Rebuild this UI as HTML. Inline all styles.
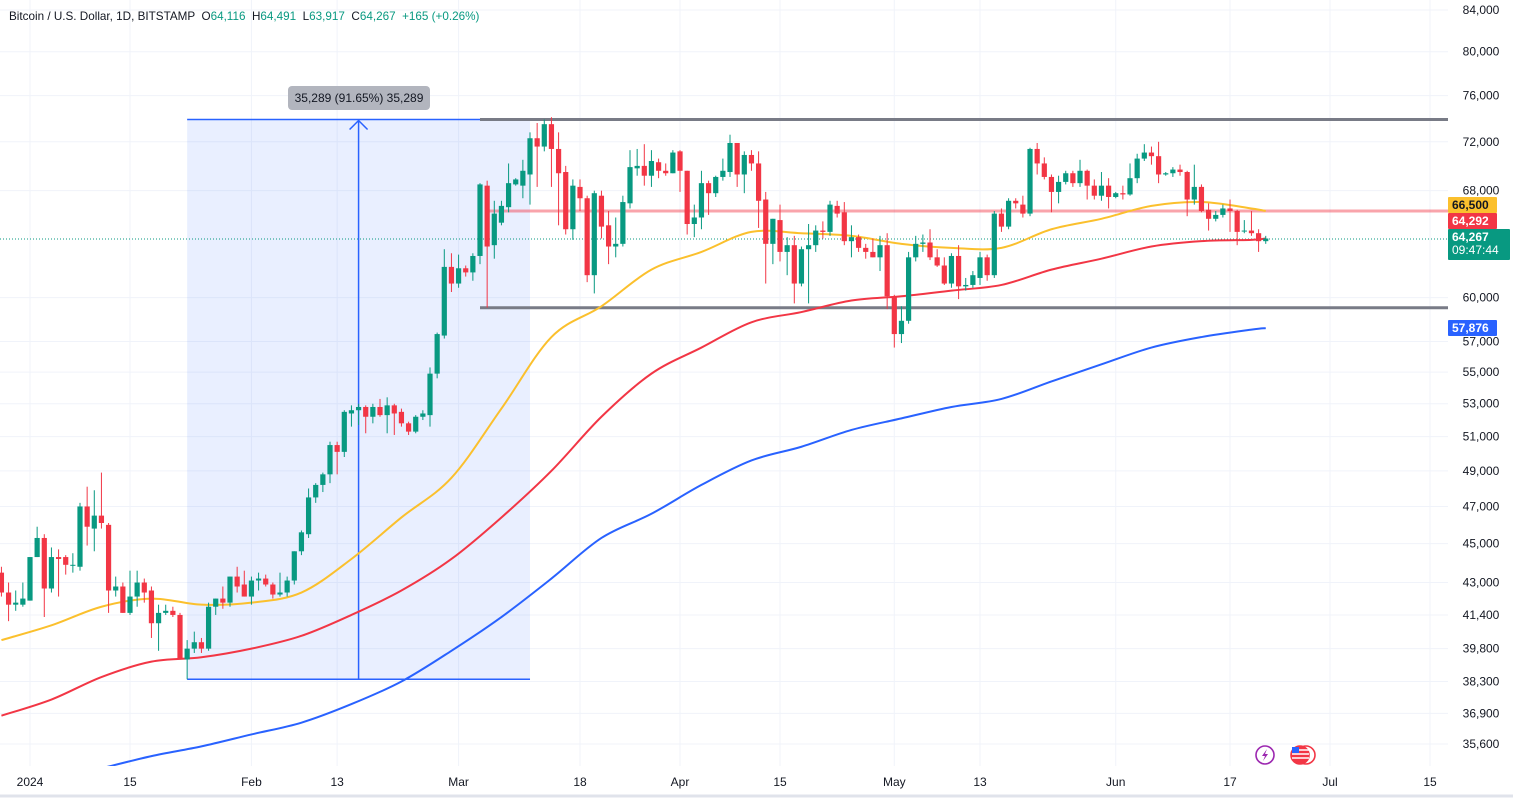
<!DOCTYPE html>
<html><head><meta charset="utf-8"><style>
html,body{margin:0;padding:0;background:#fff;}
svg{display:block;font-family:"Liberation Sans",sans-serif;}
</style></head><body>
<svg id="chart" width="1513" height="799" viewBox="0 0 1513 799" xmlns="http://www.w3.org/2000/svg"></svg>
<script>
const startDate = "2023-12-28";
const opens = [43.5,42.5,41.9,41.9,42.1,44.3,45.3,42.7,44.3,44.3,43.9,43.8,47.0,45.8,46.5,46.0,42.6,42.8,41.5,42.3,43.0,42.6,41.0,41.5,41.6,41.4,39.3,39.8,40.1,39.8,41.8,42.2,42.0,43.3,42.9,42.3,43.1,43.2,42.9,42.4,42.5,43.1,44.6,45.5,47.5,48.2,48.8,50.5,50.1,52.4,52.6,52.8,52.2,52.8,52.3,52.9,52.5,51.8,51.3,52.2,52.3,54.9,57.4,62.2,61.0,62.1,61.8,63.0,68.4,63.8,65.5,66.7,68.5,68.4,69.3,72.3,71.6,73.5,71.4,69.5,65.0,68.3,67.4,61.6,67.6,65.3,63.7,63.9,67.0,69.8,70.0,69.2,70.3,69.6,69.4,71.2,69.6,65.4,65.9,68.6,67.8,69.1,69.5,71.9,69.3,70.9,70.2,67.3,63.9,65.7,63.3,63.8,61.0,63.5,63.8,64.9,64.8,66.8,66.3,64.1,64.4,63.6,63.3,62.9,63.8,60.1,57.5,58.4,62.9,63.9,64.0,62.9,62.3,61.0,63.0,60.8,60.9,61.4,62.9,61.6,66.2,65.2,67.2,66.9,66.2,71.4,70.2,69.1,67.9,68.7,69.4,68.6,69.6,68.4,67.6,68.4,67.5,67.8,67.7,69.0,70.6,71.1,70.8,69.3,69.4,69.7,69.5,67.3,68.3,66.5,65.8,66.1,66.6,66.4,64.9,64.9,64.7,64.1];
const highs = [43.8,43.0,42.6,43.0,44.3,45.9,45.5,44.8,44.7,44.4,44.5,47.2,48.1,47.9,48.9,46.1,43.3,43.0,43.6,43.6,43.2,42.8,41.9,41.9,41.8,41.5,40.2,40.6,40.3,42.0,42.2,42.8,43.3,43.8,43.6,43.3,43.5,43.4,43.0,43.5,43.3,44.6,45.7,48.0,48.3,48.9,50.7,50.7,52.6,52.9,53.0,52.9,53.0,53.3,53.4,53.0,52.7,51.9,52.3,52.6,55.3,57.6,63.5,63.2,63.1,62.3,63.2,68.6,68.8,67.2,67.2,70.2,69.0,70.5,72.8,73.6,73.9,74.1,72.8,70.0,68.9,68.9,67.6,68.0,68.0,66.4,65.9,67.6,71.3,71.4,71.8,71.3,70.6,70.2,71.3,71.3,69.6,66.9,69.6,68.8,69.2,70.6,72.6,71.9,71.2,71.3,71.2,67.9,65.8,66.9,64.4,64.5,63.7,65.4,65.3,65.6,67.2,67.2,67.1,65.3,64.6,63.9,64.3,64.5,64.7,60.2,59.4,63.3,64.5,64.6,65.0,63.5,62.9,63.2,63.8,61.4,61.9,63.3,63.1,66.4,66.6,67.4,67.4,67.6,71.5,71.9,70.7,69.3,69.2,69.6,69.6,70.5,69.7,68.9,69.5,69.0,67.9,68.4,70.2,71.0,71.8,71.6,72.0,69.5,69.9,70.1,69.6,70.1,68.5,67.0,66.4,66.9,67.3,66.5,65.7,66.4,65.0,64.5];
const lows = [42.3,41.1,41.6,41.8,42.1,44.3,41.3,42.5,42.3,43.4,43.5,43.6,44.9,44.6,45.8,41.5,42.3,41.5,41.4,41.8,42.0,40.3,39.7,41.4,41.3,39.3,38.4,39.6,39.6,39.7,41.4,41.7,41.8,42.5,42.3,41.9,42.6,42.8,42.2,42.3,42.3,42.9,44.4,45.3,47.2,47.8,48.3,48.8,49.8,51.6,51.7,51.2,51.8,52.2,51.2,51.1,51.6,51.1,51.2,52.0,51.6,54.6,57.2,60.4,60.7,61.5,61.2,62.4,59.3,62.8,65.3,66.3,68.4,67.4,66.9,68.3,71.2,68.3,65.3,64.6,64.2,66.4,61.1,60.3,64.3,62.4,62.9,63.7,66.6,69.2,68.4,68.3,69.0,69.2,69.4,67.9,64.6,64.4,65.0,66.1,67.5,68.8,69.1,68.3,67.8,69.6,65.1,61.0,62.4,62.6,61.6,59.6,60.8,59.6,63.3,64.3,64.5,65.9,63.8,62.9,63.3,62.8,62.9,61.9,59.2,56.6,56.9,58.2,62.6,63.3,62.7,62.2,60.9,60.7,59.9,60.5,60.7,60.9,61.2,61.4,64.8,65.0,66.6,65.9,66.0,69.3,68.9,66.3,67.0,68.5,68.3,68.3,67.3,67.3,67.2,66.6,67.4,67.3,67.6,68.6,70.4,70.1,68.6,69.2,69.1,69.2,66.0,66.9,66.3,64.9,65.6,65.9,64.8,63.8,64.7,64.5,63.3,63.9];
const closes = [42.5,41.9,42.0,42.2,44.3,45.3,42.7,44.3,44.2,43.9,43.9,47.0,45.9,46.5,46.1,42.6,42.8,41.5,42.3,43.0,42.5,41.0,41.5,41.6,41.4,39.3,39.8,40.1,39.8,41.8,42.2,42.0,43.3,42.8,42.3,43.1,43.2,42.9,42.4,42.5,43.1,44.6,45.6,47.5,48.2,48.8,50.5,50.1,52.5,52.6,52.8,52.2,52.8,52.3,52.9,52.4,51.8,51.3,52.2,52.4,54.9,57.5,62.2,61.0,62.1,61.8,63.0,68.5,63.7,66.2,66.8,68.6,68.9,69.6,72.3,71.6,73.5,71.4,69.4,65.0,68.4,67.4,61.6,67.8,65.2,63.7,63.9,67.1,69.9,70.0,69.2,70.4,69.6,69.4,71.1,69.6,65.4,65.9,68.6,67.8,69.1,69.6,71.9,69.3,70.9,70.2,67.2,63.9,65.8,63.3,63.8,61.0,63.5,63.8,64.9,64.8,66.9,66.2,64.1,64.4,63.6,63.3,62.9,63.8,60.1,57.5,58.4,62.9,63.9,64.0,62.9,62.3,61.0,63.0,60.8,60.9,61.6,62.9,61.6,66.2,65.2,67.2,67.0,66.2,71.4,70.2,69.1,67.9,68.7,69.4,68.6,69.6,68.4,67.6,68.4,67.5,67.8,67.7,69.0,70.6,71.1,70.8,69.3,69.4,69.7,69.5,67.3,68.3,66.4,65.8,66.1,66.6,66.4,64.8,64.9,64.7,64.1,64.3];
const maDays = [0,7,14,21,28,35,42,49,56,63,70,77,84,91,98,105,112,119,126,133,140,147,154,161,168,175,177];
const ma50 = [40.2,40.9,41.8,42.2,41.9,42.0,42.5,44.2,46.4,48.6,52.7,57.3,59.4,62.0,63.3,64.8,64.7,64.5,63.9,63.6,63.6,65.0,65.8,66.8,67.1,66.6,66.4];
const ma100 = [36.8,37.5,38.5,39.2,39.4,39.8,40.4,41.4,42.6,44.2,46.4,49.0,52.2,54.9,56.6,58.3,59.0,59.8,60.1,60.5,60.9,62.0,62.8,63.7,64.1,64.2,64.3];
const ma200 = [null,null,34.6,35.1,35.5,36.0,36.5,37.3,38.3,39.7,41.3,43.2,45.3,46.6,48.2,49.6,50.4,51.4,52.1,52.8,53.3,54.4,55.5,56.6,57.3,57.8,57.9];
const yTicks = [84000,80000,76000,72000,68000,60000,57000,55000,53000,51000,49000,47000,45000,43000,41400,39800,38300,36900,35600];
const xTickLabels = ["2024","15","Feb","13","Mar","18","Apr","15","May","13","Jun","17","Jul","15"];
const xTickDays = [4,18,35,47,64,81,95,109,125,137,156,172,186,200];
const rangeTop = 73.9, rangeBottom = 59.3, pinkLevel = 66.4, lastPrice = 64.267;
const tagValues = [66.5, 64.292, 64.267, 57.876];
const measureFromDay = 26, measureToDay = 74, measureLow = 38.4, measureHigh = 73.9;

const NS = "http://www.w3.org/2000/svg";
const svg = document.getElementById('chart');
const PW = 1448, PH = 766;
const xOf = i => 30 + (i - 4) * 7.143;
const yOf = v => 10 + (Math.log(84000) - Math.log(v * 1000)) * 855;
const yOfRaw = v => 10 + (Math.log(84000) - Math.log(v)) * 855;
function mk(tag, attrs, parent) { const e = document.createElementNS(NS, tag); for (const k in attrs) e.setAttribute(k, attrs[k]); (parent || svg).appendChild(e); return e; }
function fmt(v){return Math.round(v).toLocaleString('en-US');}

const defs = mk('defs', {});
const cp = mk('clipPath', {id:'plotclip'}, defs);
mk('rect', {x:0,y:0,width:PW,height:PH}, cp);

const grid = mk('g', {});


yTicks.forEach(t => { mk('line', {x1:0,x2:PW,y1:yOfRaw(t),y2:yOfRaw(t),stroke:'#f0f3fa','stroke-width':1}, grid); });
xTickDays.forEach(d => { mk('line', {x1:xOf(d),x2:xOf(d),y1:0,y2:PH,stroke:'#f0f3fa','stroke-width':1}, grid); });

const plot = mk('g', {'clip-path':'url(#plotclip)'});



const mb = mk('rect', {x:xOf(measureFromDay),y:yOf(measureHigh),width:xOf(measureToDay)-xOf(measureFromDay),height:yOf(measureLow)-yOf(measureHigh),fill:'rgba(41,98,255,0.1)'}, plot);


mk('line', {x1:xOf(measureFromDay),x2:xOf(measureToDay),y1:yOf(measureHigh),y2:yOf(measureHigh),stroke:'#2962ff','stroke-width':1.5}, plot);
mk('line', {x1:xOf(measureFromDay),x2:xOf(measureToDay),y1:yOf(measureLow),y2:yOf(measureLow),stroke:'#2962ff','stroke-width':1.5}, plot);
const mx = (xOf(measureFromDay)+xOf(measureToDay))/2;
mk('line', {x1:mx,x2:mx,y1:yOf(measureLow),y2:yOf(measureHigh)+1,stroke:'#2962ff','stroke-width':1.5}, plot);
mk('polyline', {points:`${mx-9},${yOf(measureHigh)+10} ${mx},${yOf(measureHigh)+1} ${mx+9},${yOf(measureHigh)+10}`,fill:'none',stroke:'#2962ff','stroke-width':1.5}, plot);

const rtop = mk('line', {x1:xOf(67),x2:PW,y1:yOf(rangeTop),y2:yOf(rangeTop),stroke:'#787b86','stroke-width':3}, plot);


const rbot = mk('line', {x1:xOf(67),x2:PW,y1:yOf(rangeBottom),y2:yOf(rangeBottom),stroke:'#787b86','stroke-width':3}, plot);


const pk = mk('line', {x1:xOf(68),x2:PW,y1:yOf(pinkLevel),y2:yOf(pinkLevel),stroke:'rgba(242,54,69,0.45)','stroke-width':3}, plot);


mk('line', {x1:0,x2:PW,y1:yOf(lastPrice),y2:yOf(lastPrice),stroke:'#089981','stroke-width':1,'stroke-dasharray':'1 2'}, plot);

function smooth(pts){ let d=`M${pts[0][0]},${pts[0][1]}`; for(let i=0;i<pts.length-1;i++){const p0=pts[i-1]||pts[i],p1=pts[i],p2=pts[i+1],p3=pts[i+2]||p2; const c1x=p1[0]+(p2[0]-p0[0])/6,c1y=p1[1]+(p2[1]-p0[1])/6,c2x=p2[0]-(p3[0]-p1[0])/6,c2y=p2[1]-(p3[1]-p1[1])/6; d+=` C${c1x},${c1y} ${c2x},${c2y} ${p2[0]},${p2[1]}`;} return d;}
function maLine(arr, color, name){ const pts=[]; arr.forEach((v,k)=>{ if(v!==null) pts.push([xOf(maDays[k]), yOf(v)]); }); const p = mk('path', {d:smooth(pts),fill:'none',stroke:color,'stroke-width':2}, plot);   }
maLine(ma200, '#2962ff', 'ma-200-line');
maLine(ma100, '#f23645', 'ma-100-line');
maLine(ma50, '#fbc02d', 'ma-50-line');

const cg = mk('g', {}, plot);


for (let i=0;i<closes.length;i++){
  const up = closes[i] >= opens[i];
  const col = up ? '#089981' : '#f23645';
  const x = xOf(i);
  const c = mk('g', {}, cg);
  
  
  mk('line', {x1:x,x2:x,y1:yOf(highs[i]),y2:yOf(lows[i]),stroke:col,'stroke-width':1}, c);
  const yt = yOf(Math.max(opens[i],closes[i])), yb = yOf(Math.min(opens[i],closes[i]));
  mk('rect', {x:x-2.6,y:yt,width:5.2,height:Math.max(1,yb-yt),fill:col}, c);
}

const lbl = mk('g', {});


mk('rect', {x:288,y:86,width:142,height:24,rx:4,fill:'#b2b5be'}, lbl);
const lt = mk('text', {x:359,y:102,'text-anchor':'middle','font-size':12,fill:'#131722'}, lbl);
lt.textContent = '35,289 (91.65%) 35,289';

const ax = mk('g', {});


mk('rect', {x:PW,y:0,width:1513-PW,height:799,fill:'#fff'}, ax);
yTicks.forEach(t => { const tx = mk('text', {x:1481,y:yOfRaw(t)+4,'text-anchor':'middle','font-size':12,fill:'#131722'}, ax); tx.textContent = fmt(t); });
const xa = mk('g', {});


mk('rect', {x:0,y:PH,width:1513,height:799-PH,fill:'#fff'}, xa);
mk('line', {x1:0,x2:1513,y1:796,y2:796,stroke:'#e0e3eb','stroke-width':3}, xa);
xTickLabels.forEach((t,k) => { const tx = mk('text', {x:xOf(xTickDays[k]),y:786,'text-anchor':'middle','font-size':12,fill:'#131722'}, xa); tx.textContent = t; });

// price tags (stacked like the reference)
function tag(v, top, h, w, col, txtcol, name){
  const g = mk('g', {});
  
  
  mk('rect', {x:PW,y:top,width:w,height:h,fill:col,rx:1}, g);
  const t = mk('text', {x:1452,y:top+12,'font-size':12,'font-weight':'bold',fill:txtcol}, g);
  t.textContent = fmt(v*1000);
  return g;
}
tag(tagValues[0], 197, 16, 49, '#fbc02d', '#131722', 'ma-50-price-tag');
tag(tagValues[1], 213, 16, 49, '#f23645', '#fff', 'ma-100-price-tag');
const t3 = tag(tagValues[2], 229, 31, 62, '#089981', '#fff', 'last-price-tag');
const tt = mk('text', {x:1452,y:254,'font-size':12,fill:'#fff'}, t3);
tt.textContent = '09:47:44';
tag(tagValues[3], 320, 16, 49, '#2962ff', '#fff', 'ma-200-price-tag');

const hd = mk('text', {x:9,y:20,'font-size':11.7,fill:'#131722'});


hd.innerHTML = 'Bitcoin / U.S. Dollar, 1D, BITSTAMP &#160;O<tspan fill="#089981">64,116</tspan> &#160;H<tspan fill="#089981">64,491</tspan> &#160;L<tspan fill="#089981">63,917</tspan> &#160;C<tspan fill="#089981">64,267</tspan> &#160;<tspan fill="#089981">+165 (+0.26%)</tspan>';

const ic1 = mk('g', {});


mk('circle', {cx:1265,cy:755,r:9,fill:'#fff',stroke:'#9c27b0','stroke-width':1.6}, ic1);
mk('path', {d:'M1267,749 L1262,756 L1265,756 L1263,761 L1268,754 L1265,754 Z',fill:'#9c27b0'}, ic1);
const ic2 = mk('g', {});


mk('circle', {cx:1306,cy:755,r:9,fill:'#fff',stroke:'#f23645','stroke-width':1.6}, ic2);
mk('circle', {cx:1300,cy:755,r:9,fill:'#f23645',stroke:'#f23645','stroke-width':1.6}, ic2);
[750,754,758].forEach(y=>mk('line',{x1:1292,x2:1309,y1:y,y2:y,stroke:'#fff','stroke-width':1.4},ic2));
mk('rect', {x:1292,y:747,width:7,height:6,fill:'#2962ff'}, ic2);
</script>
</body></html>
